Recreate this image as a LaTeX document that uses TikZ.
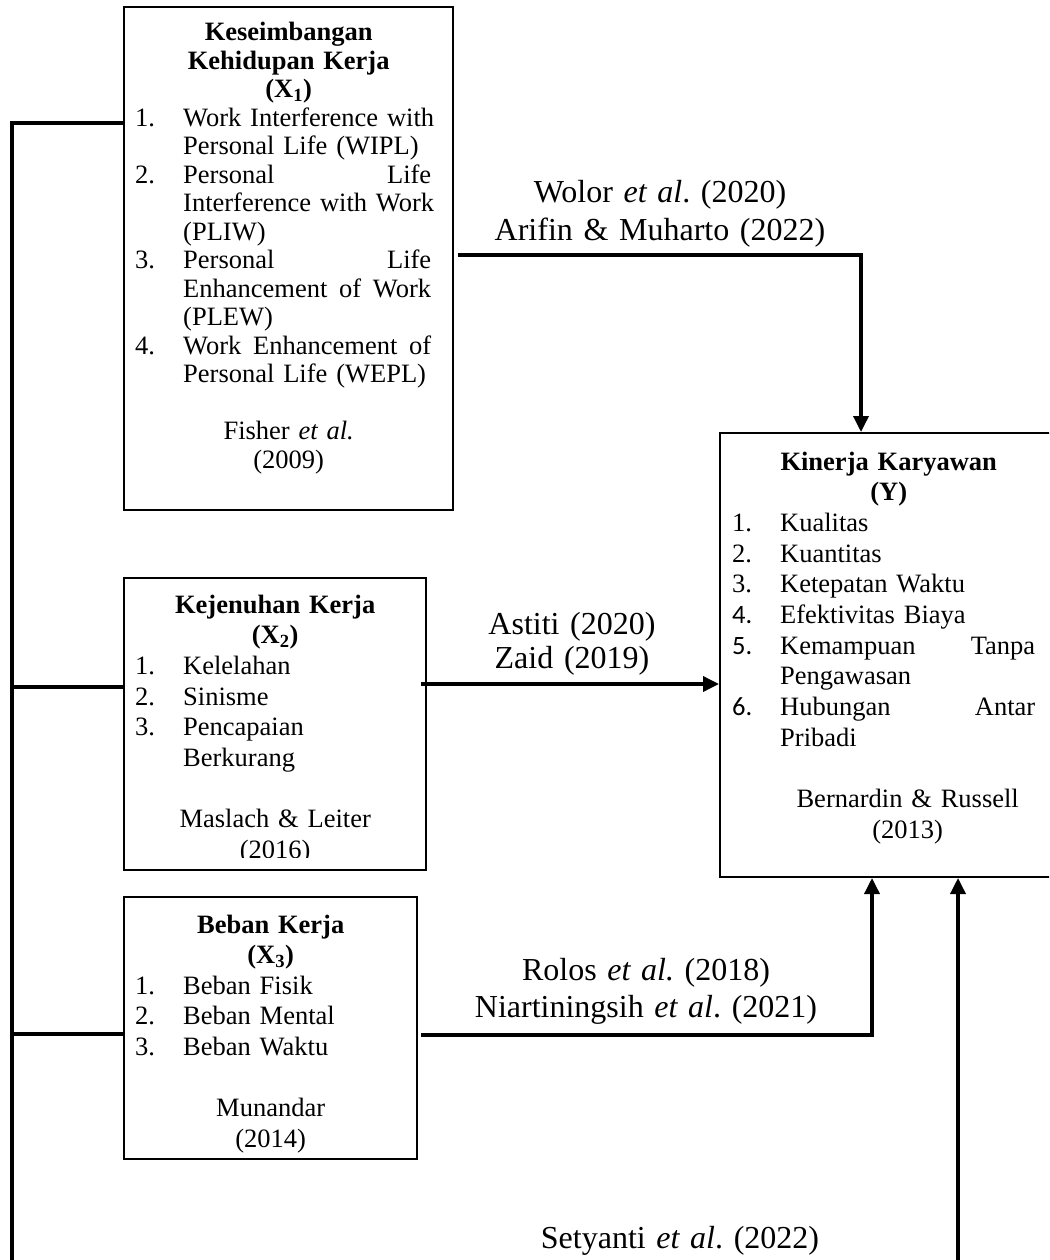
\documentclass[tikz,border=0pt]{standalone}
\usepackage{fontspec}
\setmainfont{Liberation Serif}
\newfontfamily\calib{Carlito}
\usetikzlibrary{arrows.meta}
\frenchspacing
\newcommand\numline[3]{\hspace*{#1}\makebox[48pt][l]{#2}#3}
\newcommand\contline[2]{\hspace*{#1}#2}
\begin{document}
\begin{tikzpicture}[x=1pt,y=-1pt,
  box/.style={draw, line width=2pt, inner sep=0pt, rectangle},
  txt/.style={inner sep=0pt, anchor=base west, align=left, font=\frenchspacing\fontsize{26.5}{28.5}\selectfont},
  lab/.style={inner sep=0pt, anchor=base, text width=420pt, align=center, font=\frenchspacing\fontsize{32}{37}\selectfont},
  conn/.style={line width=3.5pt},
  arr/.style={line width=3.5pt, -{Triangle[length=16pt,width=15pt]}},
]
\useasboundingbox (0,0) rectangle (1049,1260);
\clip (0,0) rectangle (1049,1260);

% boxes
\node[box, minimum width=329pt, minimum height=503pt] (x1) at (288.5,258.5) {};
\node[box, minimum width=302pt, minimum height=292pt] (x2) at (275,724) {};
\node[box, minimum width=293pt, minimum height=262pt] (x3) at (270.5,1028) {};
\node[box, minimum width=337pt, minimum height=444pt] (y) at (888.5,655) {};

% box texts
\node[txt, text width=329pt] (t1) at (124,41) {%
\makebox[329pt]{\bfseries Keseimbangan}\\
\makebox[329pt]{\bfseries Kehidupan Kerja}\\
\makebox[329pt]{\bfseries (X\textsubscript{1})}\\
\numline{11pt}{1.}{Work Interference with}\\
\contline{59pt}{Personal Life (WIPL)}\\
\numline{11pt}{2.}{\makebox[248pt][s]{Personal\hfill Life}}\\
\contline{59pt}{Interference with Work}\\
\contline{59pt}{(PLIW)}\\
\numline{11pt}{3.}{\makebox[248pt][s]{Personal\hfill Life}}\\
\contline{59pt}{\makebox[248pt][s]{Enhancement\hfill of\hfill Work}}\\
\contline{59pt}{(PLEW)}\\
\numline{11pt}{4.}{\makebox[248pt][s]{Work\hfill Enhancement\hfill of}}\\
\contline{59pt}{Personal Life (WEPL)}\\
\mbox{}\\
\makebox[329pt]{Fisher \textit{et al.}}\\
\makebox[329pt]{(2009)}};

\begin{scope}
\clip (124,578) rectangle (426,857);
\node[txt, text width=302pt, font=\frenchspacing\fontsize{26.5}{30.7}\selectfont] (t2) at (124,613) {%
\makebox[302pt]{\bfseries Kejenuhan Kerja}\\
\makebox[302pt]{\bfseries (X\textsubscript{2})}\\
\numline{11pt}{1.}{Kelelahan}\\
\numline{11pt}{2.}{Sinisme}\\
\numline{11pt}{3.}{Pencapaian}\\
\contline{59pt}{Berkurang}\\
\mbox{}\\
\makebox[302pt]{Maslach \& Leiter}\\
\makebox[302pt]{(2016)}};
\end{scope}

\node[txt, text width=293pt, font=\frenchspacing\fontsize{26.5}{30.6}\selectfont] (t3) at (124,933) {%
\makebox[293pt]{\bfseries Beban Kerja}\\
\makebox[293pt]{\bfseries (X\textsubscript{3})}\\
\numline{11pt}{1.}{Beban Fisik}\\
\numline{11pt}{2.}{Beban Mental}\\
\numline{11pt}{3.}{Beban Waktu}\\
\mbox{}\\
\makebox[293pt]{Munandar}\\
\makebox[293pt]{(2014)}};

\node[txt, text width=337pt, font=\frenchspacing\fontsize{26.5}{30.7}\selectfont] (ty) at (720,470) {%
\makebox[337pt]{\bfseries Kinerja Karyawan}\\
\makebox[337pt]{\bfseries (Y)}\\
\numline{12pt}{1.}{Kualitas}\\
\numline{12pt}{2.}{Kuantitas}\\
\numline{12pt}{3.}{Ketepatan Waktu}\\
\numline{12pt}{\calib 4.}{Efektivitas Biaya}\\
\numline{12pt}{\calib 5.}{\makebox[255pt][s]{Kemampuan\hfill Tanpa}}\\
\contline{60pt}{Pengawasan}\\
\numline{12pt}{\calib 6.}{\makebox[255pt][s]{Hubungan\hfill Antar}}\\
\contline{60pt}{Pribadi}\\
\mbox{}\\
\makebox[337pt]{\hspace*{38pt}Bernardin \& Russell}\\
\makebox[337pt]{\hspace*{38pt}(2013)}};

% labels
\node[lab] (l1) at (660,203) {Wolor \textit{et al}. (2020)\\Arifin \& Muharto (2022)};
\node[lab, font=\frenchspacing\fontsize{32}{34}\selectfont] (l2) at (572,634) {Astiti (2020)\\Zaid (2019)};
\node[lab] (l3) at (646,980) {Rolos \textit{et al.} (2018)\\Niartiningsih \textit{et al}. (2021)};
\node[lab] (l4) at (680,1248) {Setyanti \textit{et al}. (2022)};

% helper coordinates
\coordinate (b1) at (12,123);
\coordinate (b2) at (12,687);
\coordinate (b3) at (12,1034);
\coordinate (bb) at (12,1265);
\coordinate (c1) at (861,255);
\coordinate (c2) at (570,684);
\coordinate (c3) at (872,1035);
\coordinate (c4) at (958,1265);

% connectors
\draw[conn] (x1.west |- b1) -- (b1) -- (bb);
\draw[conn] (x2.west |- b2) -- (b2);
\draw[conn] (x3.west |- b3) -- (b3);
\draw[arr] ([xshift=4pt]x1.east |- c1) -- (c1) -- (c1 |- y.north);
\draw[arr] ([xshift=-6pt]x2.east |- c2) -- (y.west |- c2);
\draw[arr] ([xshift=3pt]x3.east |- c3) -- (c3) -- (c3 |- y.south);
\draw[arr] (c4) -- (c4 |- y.south);
\end{tikzpicture}
\end{document}
